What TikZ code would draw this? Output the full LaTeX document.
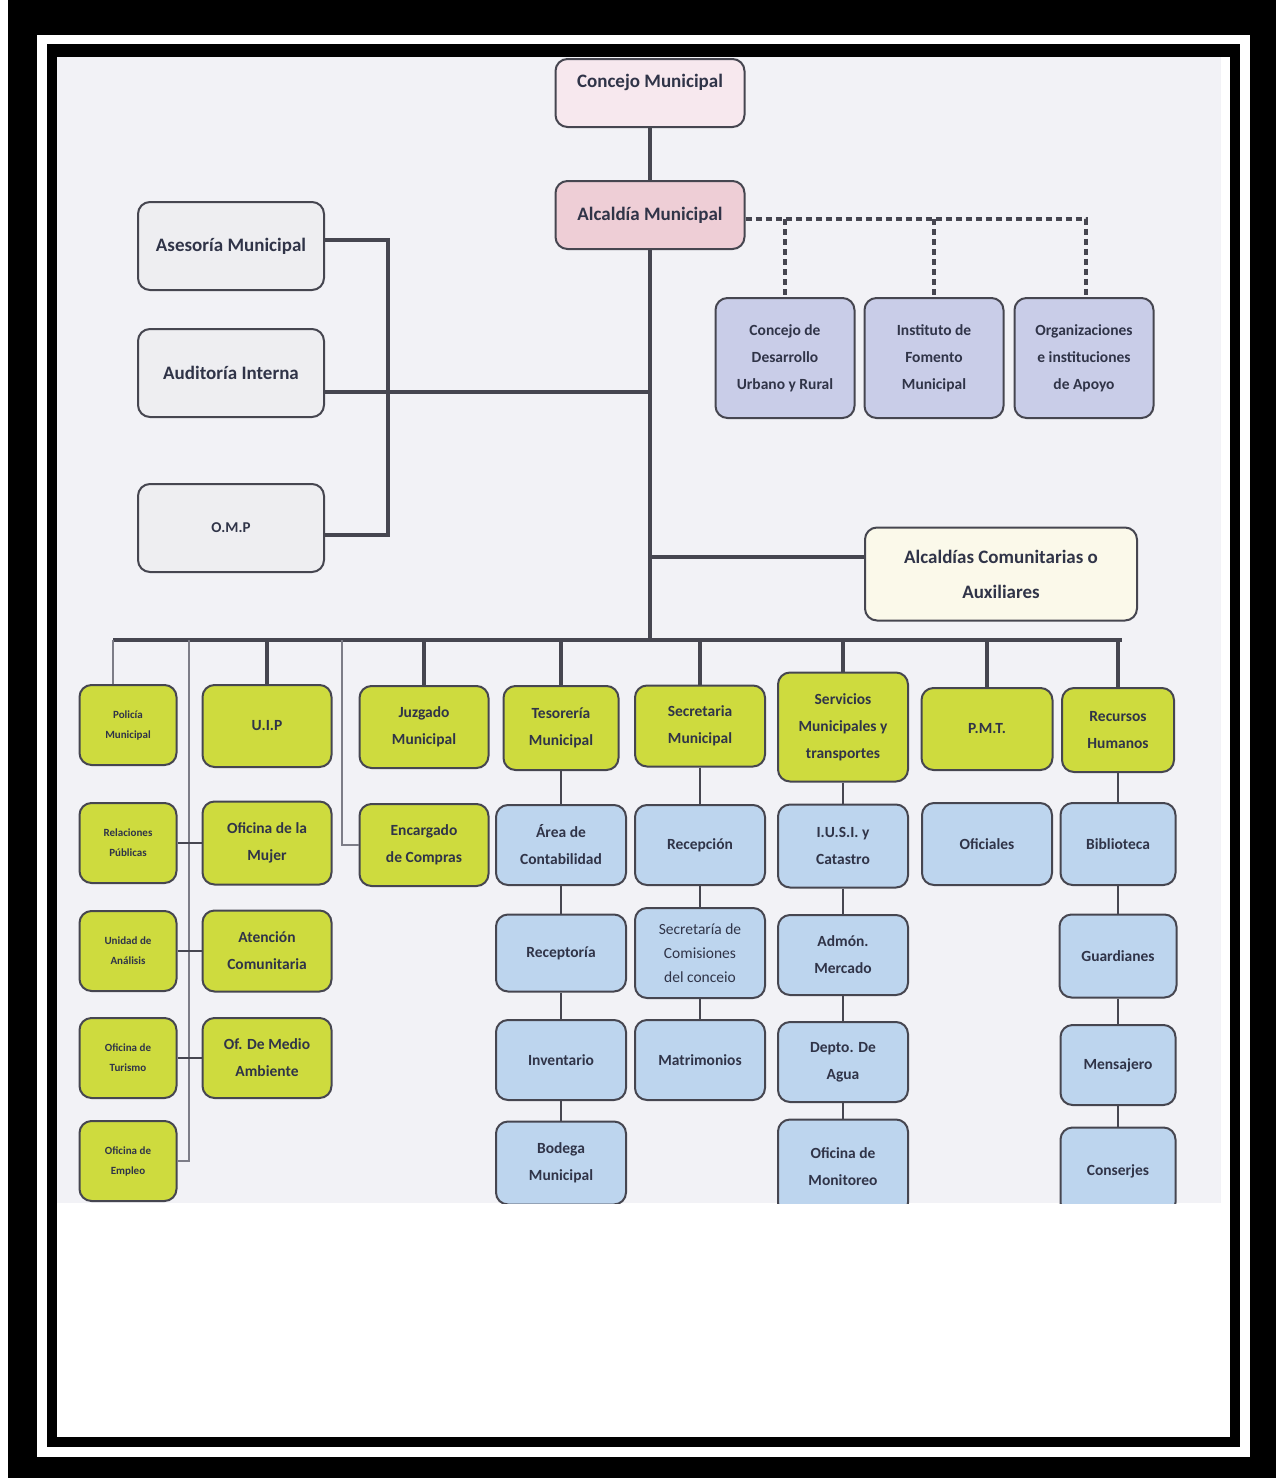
\documentclass[tikz,border=0pt]{standalone}
\usepackage{fontspec}
\setmainfont{Carlito}
\definecolor{pageGrey}{RGB}{242,242,246}
\definecolor{boxLine}{RGB}{70,70,80}
\definecolor{paleLine}{RGB}{125,125,135}
\definecolor{txtCol}{RGB}{48,52,72}
\definecolor{greenFill}{RGB}{206,219,62}
\definecolor{blueFill}{RGB}{189,213,238}
\definecolor{lilacFill}{RGB}{201,205,232}
\definecolor{greyFill}{RGB}{238,238,241}
\definecolor{pinkA}{RGB}{247,232,238}
\definecolor{pinkB}{RGB}{238,206,214}
\definecolor{creamFill}{RGB}{251,249,234}
\tikzstyle{baseRec} = [rectangle, rounded corners=12pt, draw=boxLine, line width=2pt, align=center, text=txtCol, inner sep=2pt, minimum width=130pt, minimum height=80pt, font=\bfseries\fontsize{15.5}{27}\selectfont]
\tikzstyle{greenRec} = [baseRec, fill=greenFill]
\tikzstyle{smallRec} = [baseRec, fill=greenFill, minimum width=97pt, font=\bfseries\fontsize{11}{20}\selectfont]
\tikzstyle{blueRec} = [baseRec, fill=blueFill]
\tikzstyle{lilacRec} = [baseRec, fill=lilacFill, minimum width=139pt, minimum height=120pt]
\tikzstyle{greyRec} = [baseRec, fill=greyFill, minimum width=186pt, minimum height=88pt, font=\bfseries\fontsize{19}{24}\selectfont]
\tikzstyle{topRec} = [baseRec, minimum width=189pt, minimum height=68pt, font=\bfseries\fontsize{19}{24}\selectfont]
\tikzstyle{thickLine} = [line width=4.5pt, draw=boxLine]
\tikzstyle{thinLine} = [line width=1.8pt, draw=boxLine]
\tikzstyle{paleThin} = [line width=1.5pt, draw=paleLine]
\tikzstyle{dotLine} = [line width=4pt, draw=boxLine, dash pattern=on 6pt off 4pt]

\begin{document}
\begin{tikzpicture}[x=1pt, y=-1pt]
	\useasboundingbox (0,0) rectangle (1276,1478);
	% frame
	\fill [white] (0,0) rectangle (1276,1478);
	\fill [black] (8,0) rectangle (1276,1478);
	\fill [white] (37,35) rectangle (1250,1457);
	\fill [black] (47,44) rectangle (1240,1447);
	\fill [white] (57,57) rectangle (1230,1437);
	\fill [pageGrey] (57,57) rectangle (1221,1203);
	\begin{scope}
		\clip (57,57) rectangle (1221,1203);
		% head
		\node (con) [topRec, fill=pinkA] at (650,93) {Concejo Municipal\\\mbox{}};
		\node (alc) [topRec, fill=pinkB] at (650,215) {Alcaldía Municipal};
		\node (ase) [greyRec] at (231,246) {Asesoría Municipal};
		\node (aud) [greyRec] at (231,373) {Auditoría Interna};
		\node (omp) [greyRec, font=\bfseries\fontsize{15}{18}\selectfont] at (231,528) {O.M.P};
		\node (cdu) [lilacRec] at (785,358) {Concejo de\\Desarrollo\\Urbano y Rural};
		\node (ifm) [lilacRec] at (934,358) {Instituto de\\Fomento\\Municipal};
		\node (oia) [lilacRec] at (1084,358) {Organizaciones\\e instituciones\\de Apoyo};
		\node (acx) [baseRec, fill=creamFill, minimum width=272pt, minimum height=93pt, font=\bfseries\fontsize{19}{35}\selectfont] at (1001,574) {Alcaldías Comunitarias o\\Auxiliares};
		% left column
		\node (pol) [smallRec] at (128,725) {Policía\\Municipal};
		\node (rel) [smallRec] at (128,843) {Relaciones\\Públicas};
		\node (una) [smallRec] at (128,951) {Unidad de\\Análisis};
		\node (otu) [smallRec] at (128,1058) {Oficina de\\Turismo};
		\node (oem) [smallRec] at (128,1161) {Oficina de\\Empleo};
		% green row
		\node (uip) [greenRec, minimum width=129pt, minimum height=82pt] at (267,726) {U.I.P};
		\node (muj) [greenRec, minimum width=129pt, minimum height=83pt] at (267,843) {Oficina de la\\Mujer};
		\node (aco) [greenRec, minimum width=129pt, minimum height=81pt] at (267,951) {Atención\\Comunitaria};
		\node (oma) [greenRec, minimum width=129pt] at (267,1058) {Of. De Medio\\Ambiente};
		\node (juz) [greenRec, minimum width=129pt, minimum height=82pt] at (424,727) {Juzgado\\Municipal};
		\node (enc) [greenRec, minimum width=129pt, minimum height=82pt] at (424,845) {Encargado\\de Compras};
		\node (tes) [greenRec, minimum width=115pt, minimum height=84pt] at (561,728) {Tesorería\\Municipal};
		\node (sec) [greenRec, minimum height=81pt] at (700,726) {Secretaria\\Municipal};
		\node (ser) [greenRec, minimum height=109pt] at (843,727) {Servicios\\Municipales y\\transportes};
		\node (pmt) [greenRec, minimum width=131pt, minimum height=82pt] at (987,729) {P.M.T.};
		\node (rrh) [greenRec, minimum width=112pt, minimum height=84pt] at (1118,730) {Recursos\\Humanos};
		% blue columns
		\node (are) [blueRec] at (561,845) {Área de\\Contabilidad};
		\node (rcp) [blueRec, minimum height=77pt] at (561,953) {Receptoría};
		\node (inv) [blueRec] at (561,1060) {Inventario};
		\node (bod) [blueRec, minimum height=83pt] at (561,1163) {Bodega\\Municipal};
		\node (rec) [blueRec] at (700,845) {Recepción};
		\node (com) [blueRec, minimum height=90pt, font=\fontsize{15.5}{24}\selectfont] at (700,953) {Secretaría de\\Comisiones\\del conceio};
		\node (mat) [blueRec] at (700,1060) {Matrimonios};
		\node (ius) [blueRec, minimum height=83pt] at (843,846) {I.U.S.I. y\\Catastro};
		\node (adm) [blueRec] at (843,955) {Admón.\\Mercado};
		\node (agu) [blueRec] at (843,1062) {Depto. De\\Agua};
		\node (mon) [blueRec, minimum height=95pt] at (843,1167) {Oficina de\\Monitoreo};
		\node (ofi) [blueRec, minimum height=82pt] at (987,844) {Oficiales};
		\node (bib) [blueRec, minimum width=115pt, minimum height=82pt] at (1118,844) {Biblioteca};
		\node (gua) [blueRec, minimum width=117pt, minimum height=83pt] at (1118,956) {Guardianes};
		\node (men) [blueRec, minimum width=115pt] at (1118,1065) {Mensajero};
		\node (cns) [blueRec, minimum width=115pt, minimum height=87pt] at (1118,1171) {Conserjes};
		% trunk and bus
		\coordinate (bus) at (650,640);
		\coordinate (busL) at (113,640);
		\coordinate (busR) at (1122,640);
		\draw [thickLine] (con) -- (alc);
		\draw [thickLine] (alc) -- (bus);
		\draw [thickLine] (busL) -- (busR);
		\foreach \n in {uip,juz,tes,sec,ser,pmt,rrh}
			\draw [thickLine] (\n.north |- bus) -- (\n.north);
		% advisers
		\coordinate (ja) at (388,240);
		\coordinate (jo) at (388,535);
		\coordinate (jm) at (650,392);
		\coordinate (jc) at (650,557);
		\draw [thickLine] (ja -| ase.east) -- (ja) -- (jo) -- (jo -| omp.east);
		\draw [thickLine] (jm -| aud.east) -- (jm);
		\draw [thickLine] (jc) -- (jc -| acx.west);
		% dotted links
		\coordinate (dr) at (1086,219);
		\draw [dotLine] (dr -| alc.east) -- (dr) -- (dr |- oia.north);
		\draw [dotLine] (cdu.north |- dr) -- (cdu.north);
		\draw [dotLine] (ifm.north |- dr) -- (ifm.north);
		% thin links
		\coordinate (lv) at (189,640);
		\coordinate (ev) at (342,640);
		\draw [paleThin] (busL) -- (busL |- pol.north);
		\draw [paleThin] (lv) |- (oem.east);
		\draw [paleThin] (ev) |- (enc.west);
		\foreach \a/\b in {rel/muj,una/aco,otu/oma,tes/are,are/rcp,rcp/inv,inv/bod,sec/rec,rec/com,com/mat,ser/ius,ius/adm,adm/agu,agu/mon,rrh/bib,bib/gua,gua/men,men/cns}
			\draw [thinLine] (\a) -- (\b);
	\end{scope}
\end{tikzpicture}
\end{document}
